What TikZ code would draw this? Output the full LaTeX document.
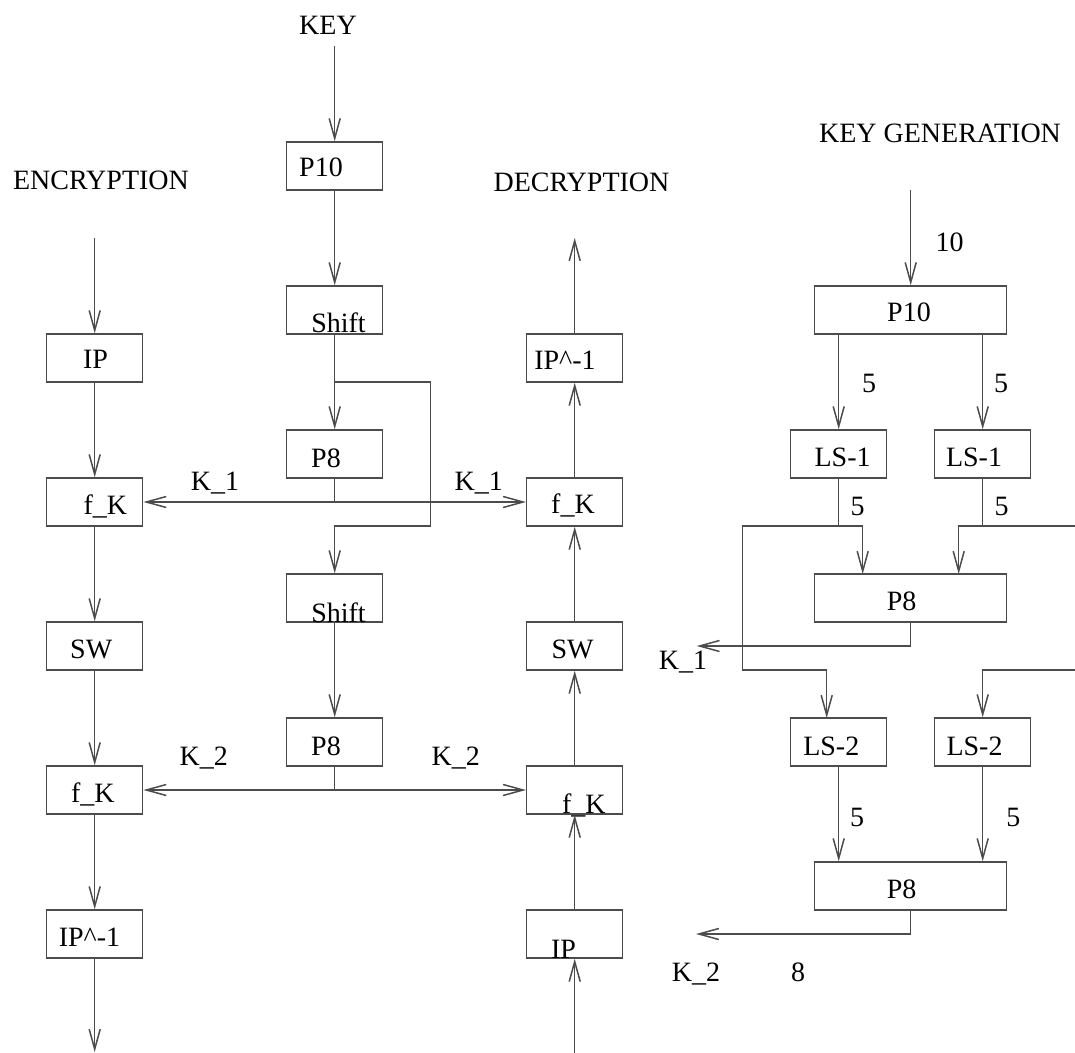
\documentclass[tikz,border=0pt]{standalone}
\usepackage{fontspec}
\setmainfont{Liberation Serif}
\usetikzlibrary{arrows.meta}

\tikzset{
  box/.style={draw=black!70,line width=0.75pt,minimum width=48pt,minimum height=24pt,inner sep=0pt},
  widebox/.style={box,minimum width=96pt},
  txt/.style={anchor=base,inner sep=0pt,font=\fontsize{14}{16}\selectfont},
  line/.style={draw=black!70,line width=0.75pt},
  arr/.style={line,-{Straight Barb[length=10pt,width=5.5pt]}}
}

\begin{document}
\begin{tikzpicture}[x=0.5pt,y=-0.5pt]
\useasboundingbox (0,0) rectangle (1075,1053);

% boxes
\foreach \n/\x/\y in {encIP/94.7/358,encFa/94.7/502,encSW/94.7/646,encFb/94.7/790,encIPi/94.7/934,
	kP10/334.7/166,kShA/334.7/310,kP8a/334.7/454,kShB/334.7/598,kP8b/334.7/742,
	decIPi/574.7/358,decFa/574.7/502,decSW/574.7/646,decFb/574.7/790,decIP/574.7/934,
	gLSa/838.7/454,gLSb/982.7/454,gLSc/838.7/742,gLSd/982.7/742}
	\node[box](\n) at (\x,\y) {};
\foreach \n/\x/\y in {gP10/910.7/310,gP8a/910.7/598,gP8b/910.7/886}
	\node[widebox](\n) at (\x,\y) {};

% texts
\foreach \n/\x/\y/\t in {tKey/328/35/KEY,tEnc/101/190/ENCRYPTION,tDec/581.5/191.7/DECRYPTION,tGen/940/143/KEY GENERATION,
	tEncIP/95.5/368/IP,tEncFa/105.3/514/f\_K,tEncSW/91.2/658.3/SW,tEncFb/92.8/802.3/f\_K,tEncIPi/89.5/946.7/IP\textasciicircum-1,
	tkP10/321/177/P10,tkShA/338.5/333/Shift,tkP8a/326/467/P8,tkShB/338.5/622/Shift,tkP8b/326/755/P8,
	tKa/215/490/K\_1,tKb/478.8/490/K\_1,tKc/203.8/765/K\_2,tKd/455.8/765/K\_2,
	tDecIPi/565/370/IP\textasciicircum-1,tDecFa/573/513.3/f\_K,tDecSW/572.5/658/SW,tDecFb/583.8/813.3/f\_K,tDecIP/563.5/958.5/IP,
	tTen/949.6/251.7/10,tgP10/909/321.7/P10,tFa/869/393/5,tFb/1001/393/5,
	tgLSa/842.6/466.7/LS-1,tgLSb/974/466.7/LS-1,tFc/857.5/515/5,tFd/1001.7/515/5,
	tgP8a/901.7/610/P8,tgKa/683/669/K\_1,tgLSc/831.3/755/LS-2,tgLSd/974.5/755/LS-2,
	tFe/857/826.7/5,tFf/1013.3/826.7/5,tgP8b/901.7/898.3/P8,tgKb/696/981/K\_2,tEight/798/981/8}
	\node[txt](\n) at (\x,\y) {\t};

% free ends
\coordinate (encIn) at (94.7,238);
\coordinate (encOut) at (94.7,1052);
\coordinate (decIn) at (574.7,1053);
\coordinate (decOut) at (574.7,238);
\coordinate (keyIn) at (334.7,46);
\coordinate (kSplit) at (334.7,382);
\coordinate (kTurn) at (430.7,526);
\coordinate (kMidA) at (334.7,502);
\coordinate (kMidB) at (334.7,790);
\coordinate (genIn) at (910.7,190);
\coordinate (aSplit) at (838.7,526);
\coordinate (aIn) at (862.7,574);
\coordinate (aLeft) at (742.7,526);
\coordinate (cTurn) at (826.7,670);
\coordinate (cIn) at (826.7,718);
\coordinate (bSplit) at (982.7,526);
\coordinate (bIn) at (958.7,574);
\coordinate (bEdge) at (1075,526);
\coordinate (dEdge) at (1075,670);
\coordinate (kOutA) at (696.7,646);
\coordinate (kOutB) at (696,934);

% encryption
\foreach \x/\y in {encIn/encIP,encIP/encFa,encFa/encSW,encSW/encFb,encFb/encIPi,encIPi/encOut}
	\draw[arr](\x)--(\y);
% decryption
\foreach \x/\y in {decIn/decIP,decIP/decFb,decFb/decSW,decSW/decFa,decFa/decIPi,decIPi/decOut}
	\draw[arr](\x)--(\y);

% key
\foreach \x/\y in {keyIn/kP10,kP10/kShA,kShA/kP8a,kShB/kP8b}
	\draw[arr](\x)--(\y);
\draw[arr](kSplit)-|(kTurn)-|(kShB);
\draw[line](kP8a)--(kMidA);
\draw[line](kP8b)--(kMidB);
\foreach \x/\y in {kMidA/encFa,kMidA/decFa,kMidB/encFb,kMidB/decFb}
	\draw[arr](\x)--(\y);

% key generation
\draw[arr](genIn)--(gP10);
\draw[arr](gP10.south -| gLSa)--(gLSa);
\draw[arr](gP10.south -| gLSb)--(gLSb);
\draw[line](gLSa)--(aSplit);
\draw[line](gLSb)--(bSplit);
\draw[arr](aSplit)-|(aIn);
\draw[arr](aSplit)--(aLeft)|-(cTurn)--(cIn);
\draw[arr](bSplit)-|(bIn);
\draw[line](bSplit)--(bEdge);
\draw[arr](dEdge)-|(gLSd);
\draw[arr](gLSc)--(gLSc |- gP8b.north);
\draw[arr](gLSd)--(gLSd |- gP8b.north);
\draw[arr](gP8a)|-(kOutA);
\draw[arr](gP8b)|-(kOutB);

\end{tikzpicture}
\end{document}
